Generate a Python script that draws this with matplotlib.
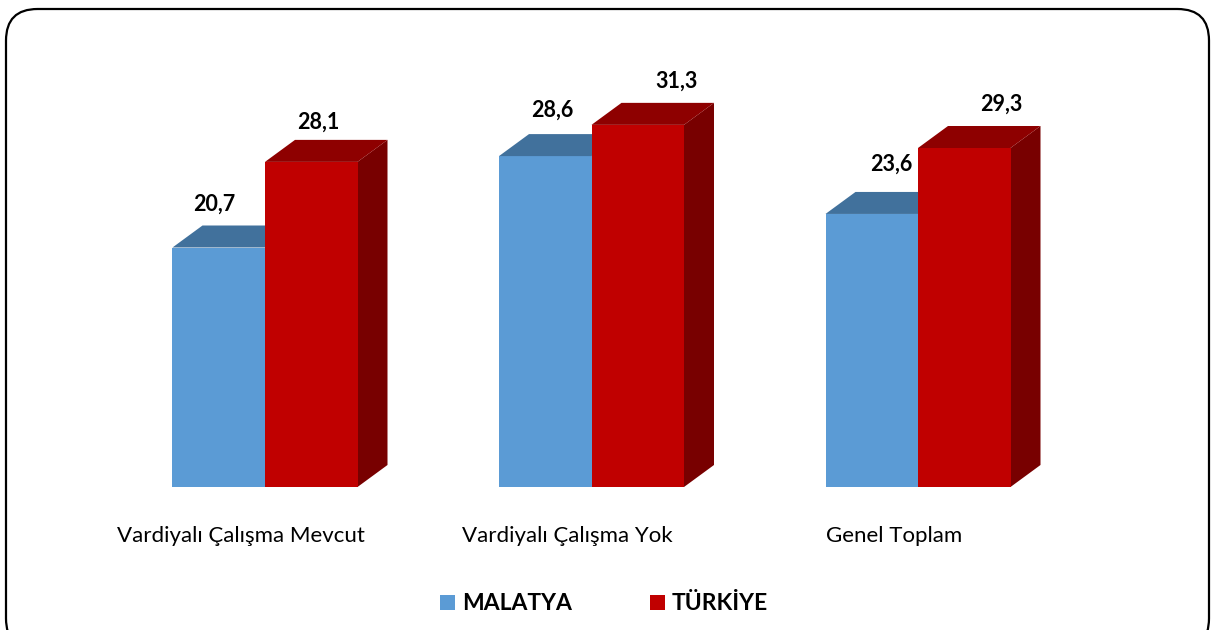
import matplotlib
matplotlib.use("Agg")
import matplotlib.pyplot as plt
from matplotlib.patches import Polygon, FancyBboxPatch, Patch

categories = ["Vardiyalı Çalışma Mevcut", "Vardiyalı Çalışma Yok", "Genel Toplam"]
series_names = ["MALATYA", "TÜRKİYE"]
malatya = [20.7, 28.6, 23.6]
turkiye = [28.1, 31.3, 29.3]

W, H = 1215, 630
fig = plt.figure(figsize=(W / 100, H / 100), dpi=100)
ax = fig.add_axes([0, 0, 1, 1])
ax.set_axis_off()

# layout (pixel-based)
px_per_cat = 326.5
x0_px = 265.0
px_per_unit = 11.57
base_px = 487.0
ax.set_xlim(-x0_px / px_per_cat, (W - x0_px) / px_per_cat)
ax.set_ylim(-(H - base_px) / px_per_unit, base_px / px_per_unit)

bw = 92.5 / px_per_cat
ddx = 30 / px_per_cat
ddy = 22 / px_per_unit

styles = [
    dict(front="#5B9BD5", top="#41719C", side="#2E5A87"),
    dict(front="#C00000", top="#8E0000", side="#780000"),
]
# label offsets (pixels) per series/category, x from bar centre, y above back top
lab_dx = [[-5, 7.5, 20], [7.5, 38.5, 37.5]]
lab_dy = [[21, 24, 28], [18, 22, 22]]

font = ["Lato", "DejaVu Sans"]

for s, vals in enumerate([malatya, turkiye]):
    st = styles[s]
    for i, v in enumerate(vals):
        xl = i - bw if s == 0 else i
        xr = xl + bw
        ax.bar(xl, v, width=bw, align="edge", color=st["front"], zorder=2 + s * 3)
        side = Polygon([(xr, 0), (xr + ddx, ddy), (xr + ddx, v + ddy), (xr, v)],
                       closed=True, facecolor=st["side"], edgecolor="none", zorder=1 + s * 3)
        top = Polygon([(xl, v), (xl + ddx, v + ddy), (xr + ddx, v + ddy), (xr, v)],
                      closed=True, facecolor=st["top"], edgecolor="none", zorder=3 + s * 3)
        ax.add_patch(side)
        ax.add_patch(top)
        cx = (xl + xr) / 2 + lab_dx[s][i] / px_per_cat
        cy = v + ddy + lab_dy[s][i] / px_per_unit
        ax.text(cx, cy, f"{v:.1f}".replace(".", ","), ha="center", va="center",
                fontsize=15.5, fontweight="bold", family=font, color="black", zorder=10)

for i, c in enumerate(categories):
    ax.text(i - 24 / px_per_cat, -(536 - base_px) / px_per_unit, c, ha="center", va="center",
            fontsize=16, family=font, color="black")

handles = [Patch(facecolor=styles[k]["front"], edgecolor="none") for k in range(2)]
leg = fig.legend(handles, series_names, loc="center", bbox_to_anchor=(604 / W, 1 - 604 / H),
                 ncol=2, frameon=False, handlelength=0.65, handleheight=0.65,
                 handletextpad=0.3, columnspacing=3.4,
                 prop=dict(family=font, weight="bold", size=16.5))

border = FancyBboxPatch((6 / W, -(20) / H), (W - 12) / W, (H - 9 + 20) / H,
                        boxstyle="round,pad=0,rounding_size=0.026",
                        transform=fig.transFigure, facecolor="none", edgecolor="black",
                        linewidth=1.6, mutation_aspect=W / H, zorder=20)
fig.patches.append(border)

fig.savefig("out.png", dpi=100, facecolor="white")
